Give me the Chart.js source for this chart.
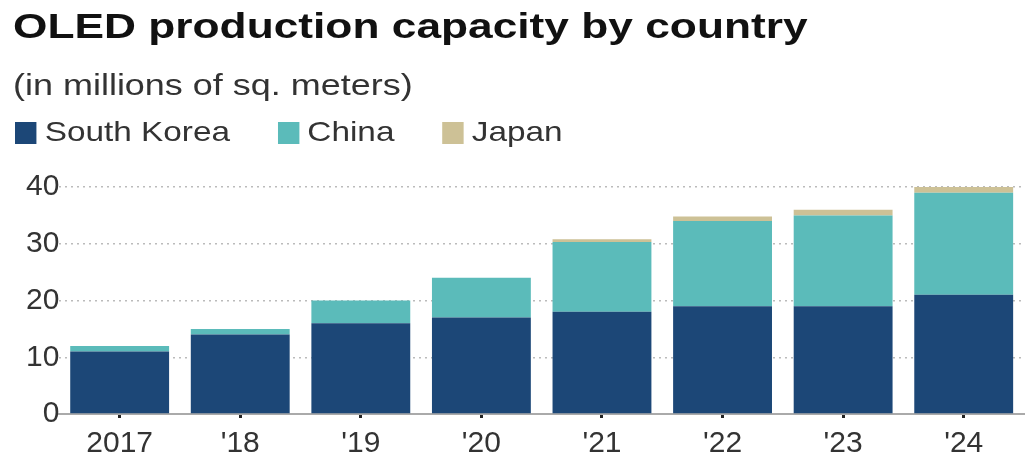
<!DOCTYPE html>
<html>
<head>
<meta charset="utf-8">
<script src="https://cdn.jsdelivr.net/npm/chart.js@4"></script>
<style>
  html, body { margin: 0; padding: 0; background: #fff; overflow: hidden; }
  #wrap { width: 1030px; height: 464px; position: relative; overflow: hidden; font-family: 'Liberation Sans', Arial, sans-serif; }
  #oledChart { position: absolute; left: 0; top: 0; }
  .title, .subtitle, #legend { position: absolute; transform-origin: 0 0; white-space: nowrap; line-height: 1; }
  .title { left: 13px; top: 8px; font-size: 35px; font-weight: bold; color: #111; transform: scaleX(1.265); }
  .subtitle { left: 13px; top: 71px; font-size: 29px; color: #333; transform: scaleX(1.24); }
  #legend { left: 15px; top: 118px; display: flex; align-items: center; font-size: 28px; color: #333;
            transform: scaleX(1.19); }
  #legend .item { display: flex; align-items: center; margin-right: 40px; }
  #legend .box { width: 18px; height: 22px; margin-right: 7px; margin-top: 2px; }
</style>
</head>
<body>
<div id="wrap">
  <canvas id="oledChart" width="1030" height="470"></canvas>
  <div class="title">OLED production capacity by country</div>
  <div class="subtitle">(in millions of sq. meters)</div>
  <div id="legend"></div>
</div>
<script>
// values (millions of sq. meters)
const years = ['2017', "'18", "'19", "'20", "'21", "'22", "'23", "'24"];
const southKorea = [11, 14, 16, 17, 18, 19, 19, 21];
const china = [1, 1, 4, 7, 12.3, 15, 16, 18];
const japan = [0, 0, 0, 0, 0.5, 0.8, 1, 1];
const yTicks = [0, 10, 20, 30, 40];

const font = "'Liberation Sans', Arial, sans-serif";

const ctx = document.getElementById('oledChart').getContext('2d');

const chart = new Chart(ctx, {
    type: 'bar',
    data: {
        labels: years,
        datasets: [
            { label: 'South Korea', data: southKorea, backgroundColor: '#1c4777' },
            { label: 'China', data: china, backgroundColor: '#5bbbba' },
            { label: 'Japan', data: japan, backgroundColor: '#cdc196' }
        ]
    },
    options: {
        responsive: false,
        animation: false,
        layout: { padding: { left: 26, right: 6, top: 187, bottom: 0 } },
        datasets: { bar: { categoryPercentage: 0.82, barPercentage: 1 } },
        plugins: {
            legend: { display: false },
            tooltip: { enabled: false }
        },
        scales: {
            x: {
                stacked: true,
                grid: {
                    offset: false,
                    drawOnChartArea: false,
                    tickLength: 4,
                    tickWidth: 3,
                    tickColor: '#222'
                },
                border: { display: true, color: '#aaa', width: 2 },
                ticks: { color: '#333', font: { family: font, size: 30, lineHeight: 1 }, padding: 11 }
            },
            y: {
                stacked: true,
                min: 0,
                max: 40,
                afterBuildTicks: axis => { axis.ticks = yTicks.map(v => ({ value: v })); },
                grid: {
                    color: '#bbb',
                    lineWidth: 1.5,
                    drawTicks: false
                },
                border: { display: false, dash: [2, 4] },
                ticks: { color: '#333', font: { family: font, size: 30 }, padding: 0 }
            }
        }
    }
});

// simple html legend built from the datasets
const legendEl = document.getElementById('legend');
chart.data.datasets.forEach(ds => {
    const item = document.createElement('span');
    item.className = 'item';
    const box = document.createElement('span');
    box.className = 'box';
    box.style.background = ds.backgroundColor;
    const txt = document.createElement('span');
    txt.textContent = ds.label;
    item.appendChild(box);
    item.appendChild(txt);
    legendEl.appendChild(item);
});
</script>
</body>
</html>
